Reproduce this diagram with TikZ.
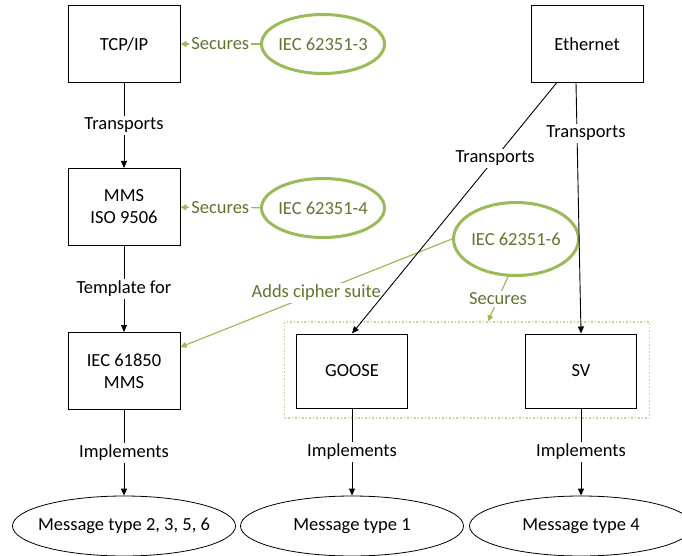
\documentclass[tikz,border=0pt]{standalone}
\usepackage{fontspec}
\setmainfont{Carlito}
\usetikzlibrary{arrows.meta, shapes.geometric, positioning}
\definecolor{olivetext}{HTML}{5F7530}
\definecolor{oliveline}{HTML}{9BBB59}
\definecolor{olivedot}{HTML}{C3D69B}

\begin{document}
\begin{tikzpicture}[x=1pt, y=-1pt,
  every node/.style={font=\fontsize{18.5}{22}\selectfont},
  layer/.style={draw, line width=1pt, minimum width=112pt, minimum height=77pt, align=center},
  msgtype/.style={draw, ellipse, line width=0.8pt, inner xsep=-16pt, minimum width=223pt, minimum height=60pt},
  standard/.style={draw=oliveline, ellipse, line width=3pt, text=olivetext, inner xsep=-4pt, minimum width=123pt, minimum height=59pt},
  rel/.style={line width=0.9pt, -{Triangle[length=7pt,width=6pt]}},
  secrel/.style={draw=oliveline, line width=1.2pt, -{Triangle[length=6pt,width=6pt]}},
  lbl/.style={fill=white, inner sep=2pt},
  seclbl/.style={fill=white, text=olivetext, inner sep=2pt}
]
\useasboundingbox (0,0) rectangle (682,556);

% protocol stacks
\node[layer] (tcpip) at (124,44) {TCP/IP};
\node[layer] (mms) at (124,207) {MMS\\ISO 9506};
\node[layer] (iec) at (124,371) {IEC 61850\\MMS};
\node[layer] (eth) at (587,44) {Ethernet};

\node[draw=olivedot, dotted, line width=1.5pt, minimum width=365pt, minimum height=96pt] (secgroup) at (467,370) {};
\node[layer, minimum width=111pt, minimum height=74pt] (goose) at (352,371) {GOOSE};
\node[layer, minimum width=111pt, minimum height=74pt] (sv) at (581,371) {SV};

% message types
\node[msgtype] (msgmms) at (124,526) {Message type 2, 3, 5, 6};
\node[msgtype] (msggoose) at (352,526) {Message type 1};
\node[msgtype] (msgsv) at (581,526) {Message type 4};

% IEC 62351 parts
\node[standard] (part3) at (323,44) {IEC 62351-3};
\node[standard] (part4) at (323,208) {IEC 62351-4};
\node[standard, minimum width=125pt, minimum height=73pt] (part6) at (516,239) {IEC 62351-6};

\draw[secrel] (part3) -- node[seclbl] {Secures} (tcpip);
\draw[secrel] (part4) -- node[seclbl] {Secures} (mms);
\draw[secrel] (part6.west) -- node[seclbl] {Adds cipher suite} ([yshift=24pt]iec.east);
\draw[secrel] (part6.258) -- node[seclbl] {Secures} ([xshift=21pt]secgroup.north);

\draw[rel] (tcpip) -- node[lbl] {Transports} (mms);
\draw[rel] (mms) -- node[lbl] {Template for} (iec);
\draw[rel] ([xshift=26pt]eth.south west) -- node[lbl, pos=0.3] {Transports} (goose.north);
\draw[rel] ([xshift=-11pt]eth.south) -- node[lbl, pos=0.2, xshift=9pt] {Transports} (sv.north);

\draw[rel] (iec) -- node[lbl] {Implements} (msgmms);
\draw[rel] (goose) -- node[lbl] {Implements} (msggoose);
\draw[rel] (sv) -- node[lbl] {Implements} (msgsv);

\end{tikzpicture}
\end{document}
